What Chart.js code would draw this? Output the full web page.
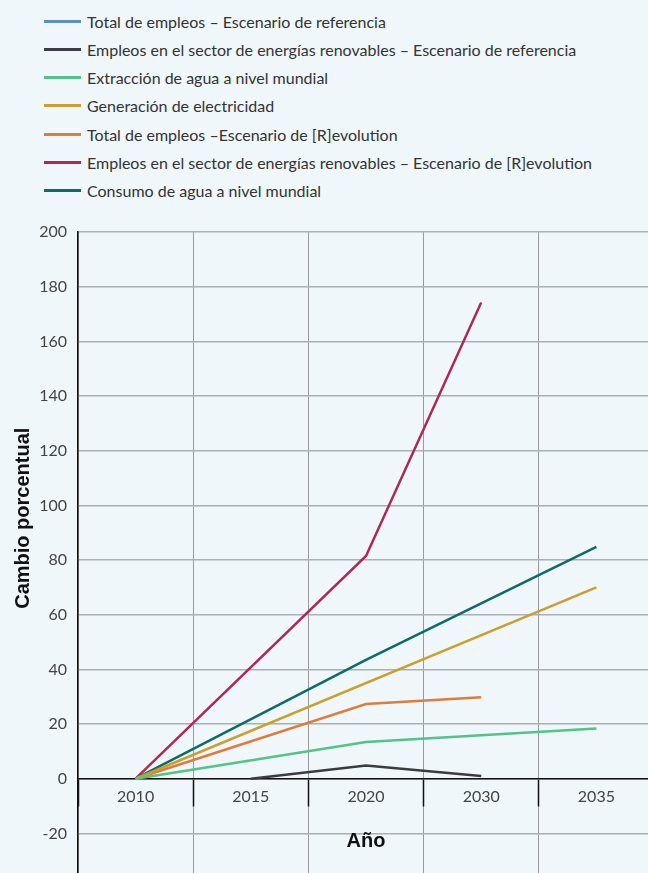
<!DOCTYPE html>
<html lang="es">
<head>
<meta charset="utf-8">
<title>Cambio porcentual</title>
<script src="https://cdn.jsdelivr.net/npm/chart.js@4.4.1/dist/chart.umd.min.js"></script>
<style>
  html, body { margin: 0; padding: 0; background: #eff7fa; width: 648px; height: 873px; overflow: hidden; }
  #legend { position: absolute; left: 44px; top: 7.6px; font-family: Lato, sans-serif; font-size: 16px; color: #333; }
  .item { display: flex; align-items: center; height: 28.1px; white-space: nowrap; }
  .swatch { width: 37px; height: 3px; margin-right: 6px; }
  #wrap { position: absolute; left: 0; top: 200px; width: 654px; height: 695px; }
</style>
</head>
<body>
<div id="legend"></div>
<div id="wrap"><canvas id="chart"></canvas></div>
<script>
// ── Data ──────────────────────────────────────────────────────────────────────

const years = ['2010', '2015', '2020', '2030', '2035'];

const totalRef     = [null, null, null, null, null];
const renovRef     = [null, 0, 4.8, 1.0, null];
const extraccion   = [0, null, 13.4, null, 18.4];
const electricidad = [0, null, null, null, 70];
const totalRev     = [0, null, 27.3, 29.8, null];
const renovRev     = [0, null, 81.5, 174.2, null];
const consumo      = [0, null, 43.5, null, 84.8];

const yTicks = [-20, 0, 20, 40, 60, 80, 100, 120, 140, 160, 180, 200];

const series = [
  { label: 'Total de empleos – Escenario de referencia', data: totalRef, color: '#5b8fc7' },
  { label: 'Empleos en el sector de energías renovables – Escenario de referencia', data: renovRef, color: '#3b3b45' },
  { label: 'Extracción de agua a nivel mundial', data: extraccion, color: '#52c487' },
  { label: 'Generación de electricidad', data: electricidad, color: '#c9a030' },
  { label: 'Total de empleos –Escenario de [R]evolution', data: totalRev, color: '#e07b3c' },
  { label: 'Empleos en el sector de energías renovables – Escenario de [R]evolution', data: renovRev, color: '#ad2a56' },
  { label: 'Consumo de agua a nivel mundial', data: consumo, color: '#0d6b6b' },
];

// ── Axis titles plugin ───────────────────────────────────────────────────────

const axisTitles = {
  id: 'axisTitles',
  afterDraw(chart) {
    const { ctx, chartArea, scales } = chart;
    ctx.save();
    ctx.fillStyle = '#111';
    ctx.font = 'bold 20px "Liberation Sans", Arial, sans-serif';
    ctx.textAlign = 'center';
    ctx.textBaseline = 'alphabetic';
    ctx.fillText('Año', (chartArea.left + chartArea.right) / 2, scales.y.getPixelForValue(-25));
    ctx.translate(chartArea.left - 49, scales.y.getPixelForValue(95.3));
    ctx.rotate(-Math.PI / 2);
    ctx.fillText('Cambio porcentual', 0, 0);
    ctx.restore();
  },
};

// ── Chart ─────────────────────────────────────────────────────────────────────

const tickFont = { family: 'Lato', size: 16 };

new Chart(document.getElementById('chart'), {
  type: 'line',
  data: {
    labels: years,
    datasets: series.map(s => ({
      label: s.label,
      data: s.data,
      borderColor: s.color,
      backgroundColor: s.color,
      borderWidth: 2.5,
      pointRadius: 0,
      pointHoverRadius: 0,
      tension: 0,
      spanGaps: true,
      fill: false,
    })),
  },
  options: {
    responsive: true,
    maintainAspectRatio: false,
    animation: false,
    layout: { padding: { top: 32, right: 0, bottom: 0, left: 0 } },
    plugins: {
      legend: { display: false },
      tooltip: { enabled: false },
    },
    scales: {
      x: {
        type: 'category',
        position: { y: 0 },
        offset: true,
        grid: {
          color: '#9a9a9a',
          lineWidth: 1,
          offset: true,
          drawTicks: true,
          tickLength: 27,
          tickColor: '#111',
          tickWidth: 1.5,
        },
        border: { color: '#111', width: 1.5 },
        ticks: { font: tickFont, color: '#444', padding: -18, maxRotation: 0, autoSkip: false },
      },
      y: {
        min: -35,
        max: 200,
        afterBuildTicks: s => { s.ticks = yTicks.map(v => ({ value: v })); },
        afterFit: s => { s.width = 78; },
        grid: { color: '#aab0b4', lineWidth: 1.5, drawTicks: false },
        border: { color: '#111', width: 1.5 },
        ticks: { font: tickFont, color: '#444', padding: 11 },
      },
    },
  },
  plugins: [axisTitles],
});

// ── HTML legend ──────────────────────────────────────────────────────────────

document.getElementById('legend').innerHTML = series.map(s => `
  <div class="item">
    <div class="swatch" style="background:${s.color}"></div>
    <span>${s.label}</span>
  </div>
`).join('');
</script>
</body>
</html>
